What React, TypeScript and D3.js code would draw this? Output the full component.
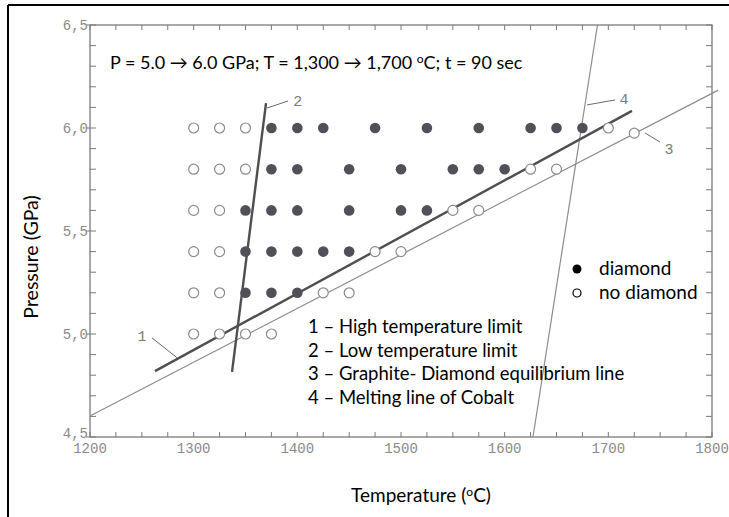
import React from "react";
import * as d3 from "d3";

// Experimental grid: pressure rows (GPa) and the temperatures (°C) of each run
const rowPressures = [6.0, 5.8, 5.6, 5.4, 5.2, 5.0];
const diamondTemps = [
  [1375, 1400, 1425, 1475, 1525, 1575, 1625, 1650, 1675],
  [1375, 1400, 1450, 1500, 1550, 1575, 1600],
  [1350, 1375, 1400, 1450, 1500, 1525],
  [1350, 1375, 1400, 1425, 1450],
  [1350, 1375, 1400],
  [],
];
const noDiamondTemps = [
  [1300, 1325, 1350, 1700],
  [1300, 1325, 1350, 1625, 1650],
  [1300, 1325, 1550, 1575],
  [1300, 1325, 1475, 1500],
  [1300, 1325, 1425, 1450],
  [1300, 1325, 1350, 1375],
];
// run lying on the equilibrium line
const extraNoDiamond = [{ t: 1725, p: 5.975 }];

// Boundary lines [T, P] end points
const line1 = [[1262.7, 4.82], [1722.8, 6.083]]; // high temperature limit
const line2 = [[1337.0, 4.816], [1369.8, 6.121]]; // low temperature limit
const line3 = [[1200, 4.602], [1806, 6.184]]; // graphite-diamond equilibrium
const line4 = [[1627.3, 4.5], [1689.5, 6.5]]; // melting line of cobalt

// Line numbers with their leader lines: label position, leader start, leader end
const lineLabels = [
  { text: "1", at: [1250.2, 4.99], from: [1259.8, 4.981], to: [1283.9, 4.885] },
  { text: "2", at: [1400.5, 6.13], from: [1370.7, 6.097], to: [1391, 6.131] },
  { text: "3", at: [1758.5, 5.9], from: [1735.4, 5.976], to: [1749.8, 5.932] },
  { text: "4", at: [1715, 6.14], from: [1679.4, 6.112], to: [1706.4, 6.136] },
];

const xTickLabels = [1200, 1300, 1400, 1500, 1600, 1700, 1800];
const yTickValues = [6.5, 6.0, 5.5, 5.0, 4.5];
const yTickLabels = ["6,5", "6,0", "5,5", "5,0", "4,5"];

const keyLines = [
  "1 \u2013 High temperature limit",
  "2 \u2013 Low temperature limit",
  "3 \u2013 Graphite- Diamond equilibrium line",
  "4 \u2013 Melting line of Cobalt",
];

const W = 729;
const H = 517;
const plot = { left: 90, right: 712, top: 25, bottom: 437 };

const x = d3.scaleLinear().domain([1200, 1800]).range([plot.left, plot.right]);
const y = d3.scaleLinear().domain([4.5, 6.5]).range([plot.bottom, plot.top]);

const lineGen = d3
  .line<number[]>()
  .x((d) => x(d[0]))
  .y((d) => y(d[1]));

const axisColor = "#7a7a7a";
const textFont = "Lato, 'Open Sans', sans-serif";
const tickFont = "'Liberation Mono', 'DejaVu Sans Mono', monospace";

export default function App() {
  const minorX = d3.range(1200, 1800.1, 25);
  const minorY = d3.range(4.5, 6.501, 0.1);

  const diamondPts = rowPressures.flatMap((p, i) => diamondTemps[i].map((t) => ({ t, p })));
  const emptyPts = rowPressures
    .flatMap((p, i) => noDiamondTemps[i].map((t) => ({ t, p })))
    .concat(extraNoDiamond);

  return (
    <svg
      width={W}
      height={H}
      style={{ position: "absolute", left: 0, top: 0, background: "#fff" }}
    >
      {/* frame */}
      <line x1={8} y1={5} x2={W} y2={5} stroke="#000" strokeWidth={2} />
      <line x1={8} y1={5} x2={8} y2={H} stroke="#000" strokeWidth={2} />

      {/* plot box */}
      <rect
        x={plot.left}
        y={plot.top}
        width={plot.right - plot.left}
        height={plot.bottom - plot.top}
        fill="none"
        stroke={axisColor}
        strokeWidth={1.3}
      />

      {/* inward ticks */}
      {minorX.map((t) => (
        <g key={"xt" + t} stroke={axisColor} strokeWidth={1}>
          <line x1={x(t)} x2={x(t)} y1={plot.bottom} y2={plot.bottom - 5} />
          <line x1={x(t)} x2={x(t)} y1={plot.top} y2={plot.top + 5} />
        </g>
      ))}
      {minorY.map((p, i) => (
        <g key={"yt" + i} stroke={axisColor} strokeWidth={1}>
          <line
            x1={i % 5 === 0 ? plot.left - 4 : plot.left}
            x2={plot.left + 6}
            y1={y(p)}
            y2={y(p)}
          />
          <line x1={plot.right} x2={plot.right - 6} y1={y(p)} y2={y(p)} />
        </g>
      ))}

      {/* tick labels */}
      {xTickLabels.map((t) => (
        <text
          key={"xl" + t}
          x={x(t)}
          y={plot.bottom + 16}
          textAnchor="middle"
          fontFamily={tickFont}
          fontSize={14}
          fill="#8a8a8a"
        >
          {t}
        </text>
      ))}
      {yTickValues.map((p, i) => (
        <text
          key={"yl" + p}
          x={plot.left - 2}
          y={y(p) + (p === 4.5 ? 1 : 5)}
          textAnchor="end"
          fontFamily={tickFont}
          fontSize={14}
          fill="#8a8a8a"
        >
          {yTickLabels[i]}
        </text>
      ))}

      {/* boundary lines */}
      <path d={lineGen(line3) ?? ""} stroke="#8c8c8c" strokeWidth={1.2} fill="none" />
      <path d={lineGen(line4) ?? ""} stroke="#8c8c8c" strokeWidth={1.2} fill="none" />
      <path d={lineGen(line1) ?? ""} stroke="#4f4f4f" strokeWidth={2.4} fill="none" />
      <path d={lineGen(line2) ?? ""} stroke="#4f4f4f" strokeWidth={2.4} fill="none" />

      {/* line numbers */}
      {lineLabels.map((l) => (
        <g key={"ll" + l.text}>
          <line
            x1={x(l.from[0])}
            y1={y(l.from[1])}
            x2={x(l.to[0])}
            y2={y(l.to[1])}
            stroke="#6a6a6a"
            strokeWidth={1}
          />
          <text
            x={x(l.at[0])}
            y={y(l.at[1])}
            dy="0.35em"
            textAnchor="middle"
            fontFamily={tickFont}
            fontSize={15}
            fill="#7a7a7a"
          >
            {l.text}
          </text>
        </g>
      ))}

      {/* runs */}
      {emptyPts.map((d, i) => (
        <circle
          key={"e" + i}
          cx={x(d.t)}
          cy={y(d.p)}
          r={5}
          fill="#fff"
          stroke="#8a8a8a"
          strokeWidth={1.2}
        />
      ))}
      {diamondPts.map((d, i) => (
        <circle key={"d" + i} cx={x(d.t)} cy={y(d.p)} r={5.3} fill="#505058" />
      ))}

      {/* conditions */}
      <text x={110} y={69} fontFamily={textFont} fontSize={18} fill="#000">
        P = 5.0 {"\u2192"} 6.0 GPa; T = 1,300 {"\u2192"} 1,700{" "}
        <tspan dy={-6} fontSize={12}>o</tspan>
        <tspan dy={6}>C; t = 90 sec</tspan>
      </text>

      {/* line key */}
      {keyLines.map((s, i) => (
        <text
          key={"k" + i}
          x={308}
          y={333 + i * 23.5}
          fontFamily={textFont}
          fontSize={18.5}
          fill="#000"
        >
          {s}
        </text>
      ))}

      {/* marker legend */}
      <circle cx={577} cy={269} r={4.5} fill="#000" />
      <text x={599} y={275} fontFamily={textFont} fontSize={19} fill="#000">
        diamond
      </text>
      <circle cx={577} cy={293} r={4} fill="#fff" stroke="#000" strokeWidth={1.2} />
      <text x={599} y={299} fontFamily={textFont} fontSize={19} fill="#000">
        no diamond
      </text>

      {/* axis titles */}
      <text
        x={421}
        y={502}
        textAnchor="middle"
        fontFamily={textFont}
        fontSize={19}
        fill="#000"
      >
        Temperature (
        <tspan dy={-6} fontSize={12}>o</tspan>
        <tspan dy={6}>C)</tspan>
      </text>
      <text
        transform="translate(38,257) rotate(-90)"
        textAnchor="middle"
        fontFamily={textFont}
        fontSize={19.5}
        fill="#000"
      >
        Pressure (GPa)
      </text>
    </svg>
  );
}
